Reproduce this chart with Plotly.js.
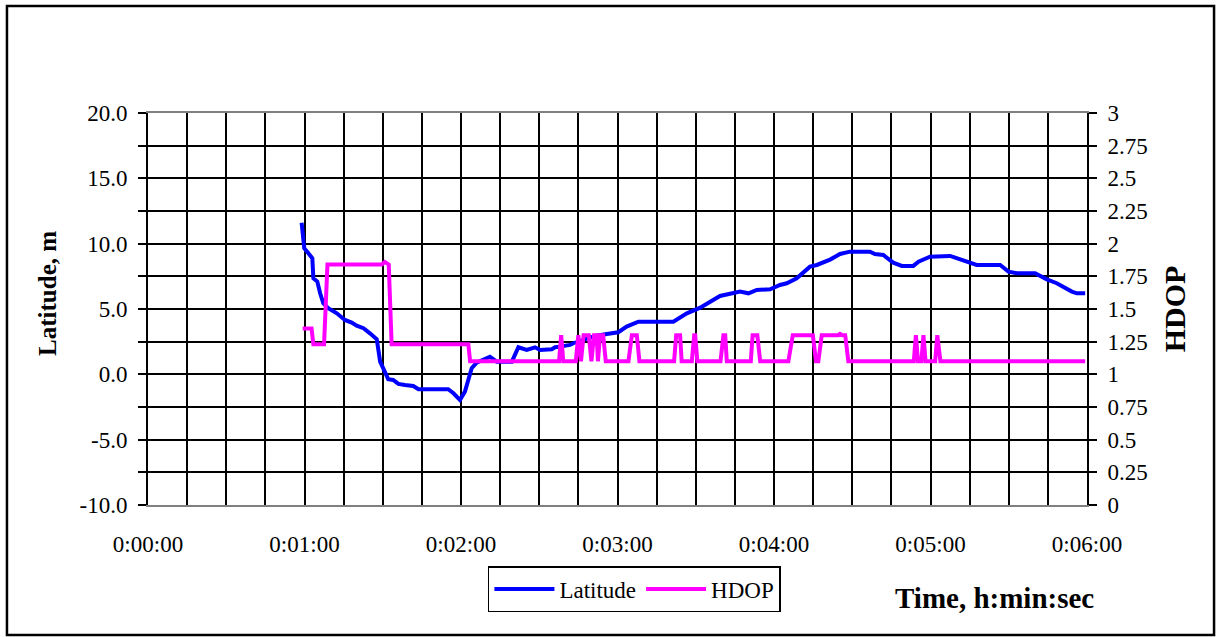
<!DOCTYPE html>
<html>
<head>
<meta charset="utf-8">
<script src="https://cdn.plot.ly/plotly-3.0.1.min.js"></script>
<style>
html,body{margin:0;padding:0;background:#fff;}
#chart{width:1218px;height:637px;}
</style>
</head>
<body>
<div id="chart"></div>
<script>
// Time in seconds since 0:00:00
const latTime = [58.9,59.9,61.5,63.0,63.4,64.9,66.0,67.2,69.1,72.4,75.5,78.1,80.0,82.6,85.1,87.7,89.0,90.2,92.1,94.0,96.0,98.5,101.7,103.7,115.1,117.1,119.6,121.5,122.8,124.1,126.0,131.1,133.7,139.5,142.0,145.2,148.4,150.3,154.8,156.1,158.0,161.8,163.1,166.9,171.4,175.9,180.3,183.5,188.0,201.4,206.6,211.7,215.5,219.3,227.0,230.2,233.4,238.5,242.3,244.9,248.7,252.6,253.8,256.4,261.5,265.3,269.1,276.8,278.7,281.9,285.7,289.0,293.4,295.4,299.8,307.5,310.0,313.9,317.7,326.7,329.9,333.1,340.1,344.6,348.4,354.2,356.1,359.3];
const latitude = [11.6,9.65,9.27,8.88,7.35,7.1,6.2,5.44,5.06,4.67,4.16,3.96,3.73,3.53,3.14,2.69,0.97,0.46,-0.37,-0.43,-0.73,-0.81,-0.89,-1.14,-1.14,-1.45,-1.96,-1.32,-0.43,0.47,0.89,1.35,0.97,0.97,2.07,1.87,2.07,1.87,1.92,2.07,2.12,2.25,2.38,2.63,2.94,3.09,3.22,3.65,4.03,4.03,4.67,5.1,5.56,6.0,6.33,6.2,6.46,6.51,6.84,6.97,7.35,8.11,8.24,8.37,8.78,9.21,9.39,9.39,9.21,9.13,8.55,8.3,8.3,8.62,9.0,9.06,8.88,8.62,8.37,8.37,7.86,7.74,7.74,7.27,6.97,6.33,6.2,6.2];

const hdopTime = [59.3,62.7,63.4,67.5,68.8,89.6,90.8,92.3,93.4,122.8,123.5,157.6,158.4,159.2,164.0,165.0,166.0,167.0,169.0,170.0,171.0,172.0,172.5,173.3,174.5,175.5,184.2,185.5,187.4,188.4,201.7,202.5,204.0,204.6,208.5,209.4,209.8,210.6,219.5,220.6,221.3,221.9,231.1,231.8,233.6,234.7,245.5,247.2,254.9,256.1,257.0,258.3,264.5,265.3,266.2,267.3,268.5,293.6,294.4,295.2,296.5,297.3,298.1,301.8,302.6,303.8,359.3];
const hdop = [1.35,1.35,1.23,1.23,1.84,1.84,1.86,1.84,1.23,1.23,1.1,1.1,1.3,1.1,1.1,1.3,1.1,1.3,1.3,1.1,1.3,1.3,1.1,1.3,1.3,1.1,1.1,1.3,1.3,1.1,1.1,1.3,1.3,1.1,1.1,1.3,1.3,1.1,1.1,1.3,1.3,1.1,1.1,1.3,1.3,1.1,1.1,1.3,1.3,1.1,1.1,1.3,1.3,1.31,1.3,1.3,1.1,1.1,1.3,1.1,1.1,1.3,1.1,1.1,1.3,1.1,1.1];

const xTickVals = [0,60,120,180,240,300,360];
const xTickText = ['0:00:00','0:01:00','0:02:00','0:03:00','0:04:00','0:05:00','0:06:00'];
const yTickVals = [-10,-5,0,5,10,15,20];
const yTickText = ['-10.0','-5.0','0.0','5.0','10.0','15.0','20.0'];
const y2TickVals = [0,0.25,0.5,0.75,1,1.25,1.5,1.75,2,2.25,2.5,2.75,3];
const y2TickText = ['0','0.25','0.5','0.75','1','1.25','1.5','1.75','2','2.25','2.5','2.75','3'];

const FONT = 'Liberation Serif';

const traces = [
  {x: latTime, y: latitude, name: 'Latitude', type: 'scatter', mode: 'lines',
   line: {color: '#0000FF', width: 4}, yaxis: 'y'},
  {x: hdopTime, y: hdop, name: 'HDOP', type: 'scatter', mode: 'lines',
   line: {color: '#FF00FF', width: 4}, yaxis: 'y2'}
];

const layout = {
  width: 1218, height: 637,
  margin: {l: 148, r: 131, t: 113, b: 132},
  paper_bgcolor: '#ffffff', plot_bgcolor: '#ffffff',
  font: {family: FONT, color: '#000', size: 23},
  showlegend: true,
  legend: {orientation: 'h', x: 0.362, y: -0.156, xanchor: 'left', yanchor: 'top',
           bordercolor: '#000', borderwidth: 1.5, bgcolor: '#fff', itemwidth: 60,
           font: {family: FONT, size: 23, color: '#000'}},
  xaxis: {range: [0, 360], tickmode: 'array', tickvals: xTickVals, ticktext: xTickText,
          showgrid: true, gridcolor: '#000', gridwidth: 2, zeroline: false,
          showline: true, linecolor: '#808080', linewidth: 2, mirror: true,
          ticks: '', ticklabelstandoff: 17,
          minor: {tickmode: 'linear', tick0: 0, dtick: 15, showgrid: true, gridcolor: '#000', gridwidth: 2, ticks: ''},
          tickfont: {family: FONT, size: 23, color: '#000'}},
  yaxis: {range: [-10, 20], tickmode: 'array', tickvals: yTickVals, ticktext: yTickText,
          showgrid: true, gridcolor: '#000', gridwidth: 2, zeroline: false,
          showline: true, linecolor: '#000', linewidth: 2,
          ticks: 'outside', ticklen: 8, tickwidth: 2, tickcolor: '#000', ticklabelstandoff: 6,
          minor: {tickmode: 'linear', tick0: 0, dtick: 2.5, showgrid: true, gridcolor: '#000', gridwidth: 2,
                  ticks: 'outside', ticklen: 8, tickwidth: 2, tickcolor: '#000'},
          tickfont: {family: FONT, size: 23, color: '#000'}},
  yaxis2: {range: [0, 3], overlaying: 'y', side: 'right', tickmode: 'array',
           tickvals: y2TickVals, ticktext: y2TickText,
           showgrid: false, zeroline: false,
           showline: true, linecolor: '#000', linewidth: 2,
           ticks: 'outside', ticklen: 8, tickwidth: 2, tickcolor: '#000', ticklabelstandoff: 6,
           tickfont: {family: FONT, size: 23, color: '#000'},
           title: {text: '<b>HDOP</b>', font: {family: FONT, size: 30, color: '#000'}, standoff: 17}},
  annotations: [
    {text: '<b>Latitude, m</b>', xref: 'paper', yref: 'paper', x: -0.1065, y: 0.541,
     xanchor: 'center', yanchor: 'middle', textangle: -90, showarrow: false,
     font: {family: FONT, size: 25, color: '#000'}},
    {text: '<b>Time, h:min:sec</b>', xref: 'paper', yref: 'paper', x: 0.901, y: -0.237,
     xanchor: 'center', yanchor: 'middle', showarrow: false,
     font: {family: FONT, size: 29, color: '#000'}}
  ],
  shapes: [
    {type: 'rect', xref: 'paper', yref: 'paper', x0: -0.1502, x1: 1.1353, y0: -0.3316, y1: 1.273,
     line: {color: '#000', width: 2.5}, fillcolor: 'rgba(0,0,0,0)', layer: 'below'}
  ]
};

Plotly.newPlot('chart', traces, layout, {displayModeBar: false, staticPlot: true});
</script>
</body>
</html>
